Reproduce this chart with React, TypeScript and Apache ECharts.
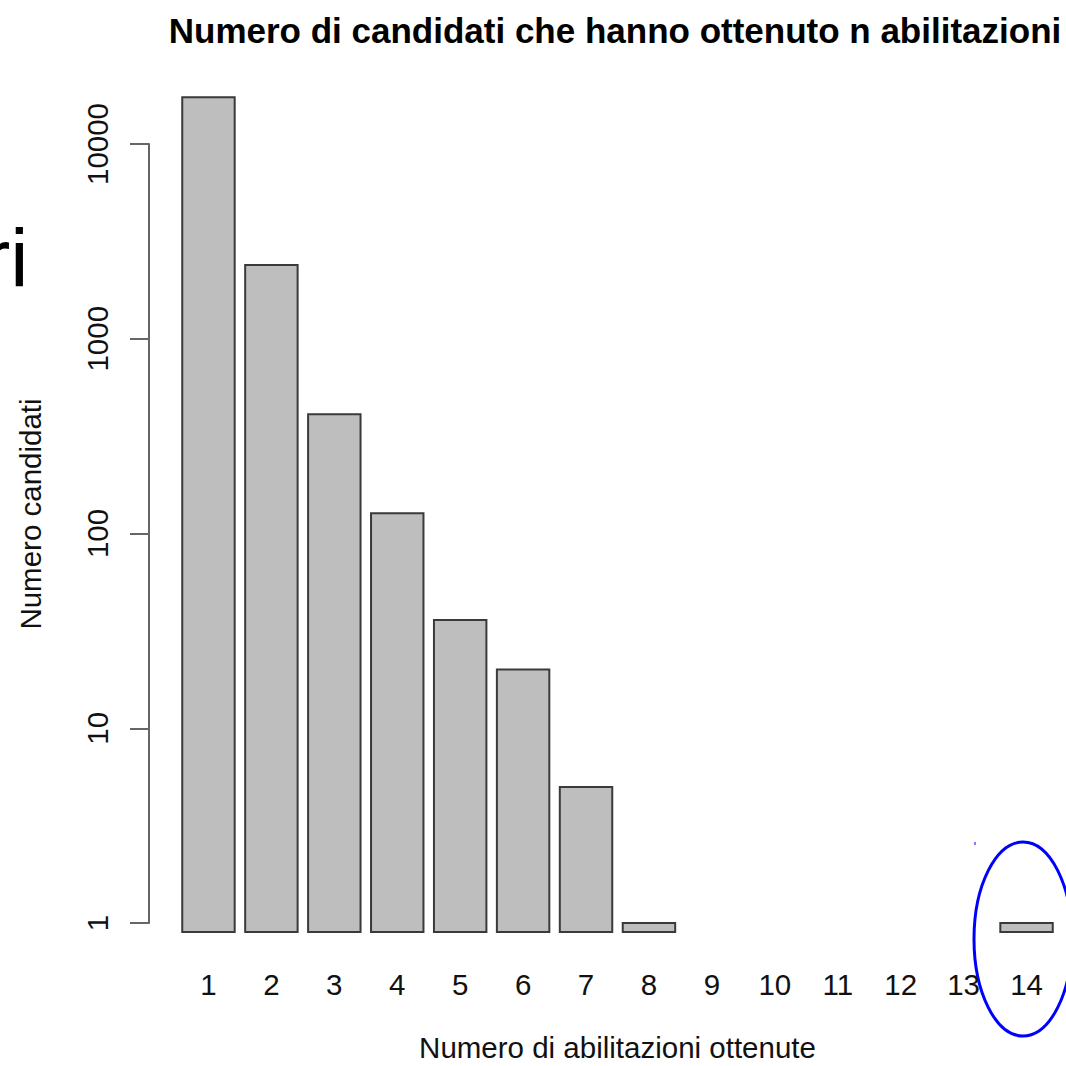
import React, { useEffect, useRef } from "react";
import * as echarts from "echarts";

const categories = ["1", "2", "3", "4", "5", "6", "7", "8", "9", "10", "11", "12", "13", "14"];
const counts = [17400, 2390, 409, 127, 36, 20, 5, 1, 0, 0, 0, 0, 0, 1];
const yTicks = [1, 10, 100, 1000, 10000];
const barBase = 0.9;

const titleText = "Numero di candidati che hanno ottenuto n abilitazioni";
const xName = "Numero di abilitazioni ottenute";
const yName = "Numero candidati";
const FONT = "Liberation Sans";

export default function App() {
  const ref = useRef<HTMLDivElement>(null);
  useEffect(() => {
    const chart = echarts.init(ref.current!, null, { renderer: "svg" });
    const option: any = {
      animation: false,
      backgroundColor: "#ffffff",
      title: {
        text: titleText,
        left: 615,
        top: 13,
        padding: 0,
        textAlign: "center",
        textStyle: { fontFamily: FONT, fontWeight: "bold", fontSize: 35, color: "#000" },
      },
      grid: {
        left: 177,
        right: 8,
        top: 144,
        height: 779,
        containLabel: false,
        outerBoundsMode: "none",
      },
      xAxis: {
        type: "category",
        data: categories,
        boundaryGap: true,
        axisLine: { show: false },
        axisTick: { show: false },
        axisLabel: { fontFamily: FONT, fontSize: 29.5, color: "#111", margin: 46, interval: 0 },
        name: xName,
        nameLocation: "middle",
        nameGap: 109,
        nameTextStyle: { fontFamily: FONT, fontSize: 29.5, color: "#111" },
      },
      yAxis: {
        type: "log",
        logBase: 10,
        min: 1,
        max: 10000,
        offset: 28,
        axisLine: { show: true, lineStyle: { color: "#666", width: 2 } },
        axisTick: { show: true, length: 19, lineStyle: { color: "#666", width: 2 }, customValues: yTicks },
        axisLabel: {
          fontFamily: FONT,
          fontSize: 29.5,
          color: "#111",
          rotate: 90,
          margin: 37,
          customValues: yTicks,
          formatter: (v: number) => String(Math.round(v)),
        },
        splitLine: { show: false },
      },
      series: [
        {
          type: "custom",
          clip: false,
          data: counts.map((v, i) => [i, v]),
          renderItem: (params: any, api: any) => {
            const idx = api.value(0);
            const v = api.value(1);
            if (!(v > 0)) return null;
            const top = api.coord([idx, v]);
            const base = api.coord([idx, barBase]);
            const w = api.size([1, 0], [idx, 1])[0] / 1.2;
            return {
              type: "rect",
              shape: { x: top[0] - w / 2, y: top[1], width: w, height: base[1] - top[1] },
              style: { fill: "#bebebe", stroke: "#3a3a3a", lineWidth: 2 },
            };
          },
        },
      ],
      graphic: [
        {
          type: "text",
          x: 30,
          y: 514,
          rotation: Math.PI / 2,
          style: {
            text: yName,
            fontFamily: FONT,
            fontSize: 29.5,
            fill: "#111",
            align: "center",
            verticalAlign: "middle",
          },
        },
        {
          type: "text",
          x: -17,
          y: 216,
          style: {
            text: "ri",
            fontFamily: FONT,
            fontSize: 82,
            fill: "#000",
            align: "left",
            verticalAlign: "top",
          },
        },
        {
          type: "ellipse",
          shape: { cx: 1023, cy: 939, rx: 49, ry: 97 },
          style: { fill: "none", stroke: "#0000ff", lineWidth: 3 },
        },
        {
          type: "line",
          shape: { x1: 975, y1: 842, x2: 975, y2: 845 },
          style: { stroke: "#0000ff", lineWidth: 1 },
        },
      ],
    };
    chart.setOption(option);
    return () => chart.dispose();
  }, []);
  return (
    <div
      ref={ref}
      style={{ position: "absolute", left: 0, top: 0, width: 1066, height: 1066, background: "#fff" }}
    />
  );
}
